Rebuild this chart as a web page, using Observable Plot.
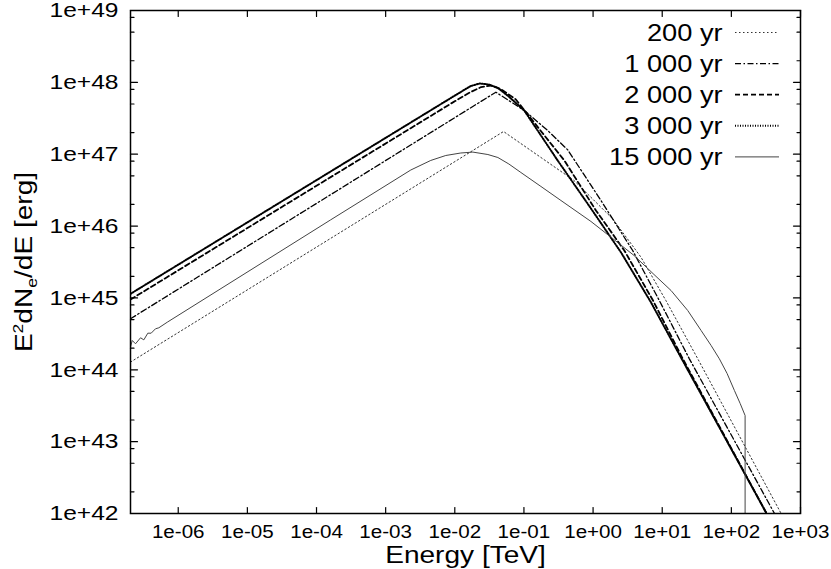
<!DOCTYPE html>
<html>
<head>
<meta charset="utf-8">
<script src="https://cdn.jsdelivr.net/npm/d3@7"></script>
<script src="https://cdn.jsdelivr.net/npm/@observablehq/plot@0.6"></script>
<style>
html, body { margin: 0; padding: 0; background: #fff; }
#wrap { position: relative; width: 831px; height: 569px; overflow: hidden; }
</style>
</head>
<body>
<div id="wrap"></div>
<script>
// ---------------- data ----------------
const seriesNames = ["200 yr", "1 000 yr", "2 000 yr", "3 000 yr", "15 000 yr"];

const energy200 = [2.04e-7, 0.0507, 0.53, 1.92, 4.93, 11.3, 32.7, 513, 640];
const value200  = [1.28e44, 2.07e47, 4.31e46, 1.26e46, 3.69e45, 9.2e44, 1.42e44, 1.04e42, 7.0e41];

const energy1000 = [2.04e-7, 0.0393, 0.101, 0.22, 0.43, 1.30, 3.74, 9.08, 24.7, 411, 520];
const value1000  = [5.13e44, 7.3e47, 4.06e47, 2.14e47, 1.15e47, 2.27e46, 4.57e45, 9.2e44, 1.42e44, 1.04e42, 6.9e41];

const energy2000 = [2.04e-7, 8.75e-3, 0.01596, 0.024, 0.0333, 0.0463, 0.0764, 0.383, 1.10, 2.83, 7.36, 19.4, 318, 400];
const value2000  = [9.5e44, 5.05e47, 7.11e47, 8.6e47, 9.04e47, 8.09e47, 5.77e47, 8.2e46, 1.65e46, 4.57e45, 9.2e44, 1.48e44, 1.03e42, 6.8e41];

const energy3000 = [2.04e-7, 8.75e-3, 0.01327, 0.01706, 0.0230, 0.0311, 0.0420, 0.0579, 0.101, 0.307, 0.871, 2.54, 6.89, 18.7, 318, 400];
const value3000  = [1.14e45, 6.05e47, 7.71e47, 8.9e47, 9.64e47, 9.33e47, 8.36e47, 6.56e47, 4.06e47, 8.2e46, 1.93e46, 4.29e45, 8.65e44, 1.48e44, 1.03e42, 6.8e41];

const energy15000 = [2.04e-7, 2.16e-7, 2.41e-7, 2.85e-7, 3.18e-7, 3.63e-7, 4.06e-7, 4.69e-7, 5.24e-7, 6.93e-7,
                     1.60e-4, 2.31e-3, 4.49e-3, 7.41e-3, 0.01222, 0.01825, 0.0301, 0.0420, 0.0605, 0.0903,
                     0.176, 0.343, 0.931, 2.0, 3.91, 7.6, 13.4, 23.4, 36.5, 50.9, 67.1, 86.7, 110.7, 134, 158, 158];
const value15000  = [2.07e44, 2.56e44, 2.30e44, 2.79e44, 2.61e44, 3.23e44, 3.23e44, 3.72e44, 3.84e44, 4.59e44,
                     1.22e46, 6.03e46, 8.19e46, 9.6e46, 1.04e47, 1.07e47, 9.9e46, 9.0e46, 7.31e46, 5.57e46,
                     3.56e46, 2.27e46, 1.16e46, 6.5e45, 3.9e45, 2.12e45, 1.27e45, 6.68e44, 3.52e44, 2.18e44,
                     1.42e44, 8.9e43, 5.15e43, 3.4e43, 2.31e43, 1e41];

const xDomain = [2.04e-7, 1e3];
const yDomain = [1e42, 1e49];
const xTickValues = [1e-6, 1e-5, 1e-4, 1e-3, 1e-2, 1e-1, 1e0, 1e1, 1e2, 1e3];
const xTickLabels = ["1e-06", "1e-05", "1e-04", "1e-03", "1e-02", "1e-01", "1e+00", "1e+01", "1e+02", "1e+03"];
const yTickValues = [1e42, 1e43, 1e44, 1e45, 1e46, 1e47, 1e48, 1e49];
const yTickLabels = ["1e+42", "1e+43", "1e+44", "1e+45", "1e+46", "1e+47", "1e+48", "1e+49"];
const yMinorTicks = [2e42, 5e42, 8e42, 2e43, 5e43, 8e43, 2e44, 5e44, 8e44, 2e45, 5e45, 8e45,
                     2e46, 5e46, 8e46, 2e47, 5e47, 8e47, 2e48, 5e48, 8e48];
const xTitle = "Energy [TeV]";
const yTitle = "E2dNe/dE [erg]";

// ---------------- styles ----------------
const lineStyles = {
  "200 yr":    {stroke: "#333", strokeWidth: 1,   strokeDasharray: "1.5,2.5"},
  "1 000 yr":  {stroke: "#000", strokeWidth: 1.3, strokeDasharray: "6,2.5,1.5,2.5"},
  "2 000 yr":  {stroke: "#000", strokeWidth: 1.8, strokeDasharray: "5,3"},
  "3 000 yr":  {stroke: "#000", strokeWidth: 2,   strokeDasharray: "1,1.5"},
  "15 000 yr": {stroke: "#444", strokeWidth: 1,   strokeDasharray: null}
};
const FONT = "'Liberation Sans', Arial, Helvetica, sans-serif";
const SX = 1.17; // horizontal widening of the glyphs, as in the reference

// ---------------- build table ----------------
const seriesData = [
  [energy200, value200], [energy1000, value1000], [energy2000, value2000],
  [energy3000, value3000], [energy15000, value15000]
];
const rows = [];
seriesNames.forEach((name, s) => {
  const [E, V] = seriesData[s];
  E.forEach((e, i) => rows.push({series: name, E: e, value: V[i]}));
});

const tickShape = {draw(ctx, l) { ctx.moveTo(0, 0); ctx.lineTo(0, -l); }};
const xLab = new Map(xTickValues.map((v, i) => [v, xTickLabels[i]]));
const yLab = new Map(yTickValues.map((v, i) => [v, yTickLabels[i]]));

const marks = [];
seriesNames.forEach(name => {
  const st = lineStyles[name];
  const opts = {x: "E", y: "value", stroke: st.stroke, strokeWidth: st.strokeWidth, clip: true};
  if (st.strokeDasharray) opts.strokeDasharray = st.strokeDasharray;
  marks.push(Plot.line(rows.filter(r => r.series === name), opts));
});

marks.push(
  Plot.vector(xTickValues, {x: d => d, frameAnchor: "bottom", rotate: 0, length: 6, anchor: "start", shape: tickShape, stroke: "black", strokeWidth: 1.2}),
  Plot.vector(xTickValues, {x: d => d, frameAnchor: "top", rotate: 180, length: 6, anchor: "start", shape: tickShape, stroke: "black", strokeWidth: 1.2}),
  Plot.vector(yTickValues, {y: d => d, frameAnchor: "left", rotate: 90, length: 7, anchor: "start", shape: tickShape, stroke: "black", strokeWidth: 1.2}),
  Plot.vector(yTickValues, {y: d => d, frameAnchor: "right", rotate: -90, length: 7, anchor: "start", shape: tickShape, stroke: "black", strokeWidth: 1.2}),
  Plot.vector(yMinorTicks, {y: d => d, frameAnchor: "left", rotate: 90, length: 3.5, anchor: "start", shape: tickShape, stroke: "black", strokeWidth: 1.2}),
  Plot.vector(yMinorTicks, {y: d => d, frameAnchor: "right", rotate: -90, length: 3.5, anchor: "start", shape: tickShape, stroke: "black", strokeWidth: 1.2}),
  Plot.frame({stroke: "black", strokeWidth: 1.5}),
  Plot.axisX({ticks: xTickValues, tickFormat: d => xLab.get(d), tickSize: 0, tickPadding: 12, fontSize: 17.6, label: null}),
  Plot.axisY({ticks: yTickValues, tickFormat: d => yLab.get(d), tickSize: 0, tickPadding: 12, fontSize: 21, label: null}),
  Plot.text([xTitle], {text: d => d, frameAnchor: "bottom", dy: 42, fontSize: 24, lineAnchor: "middle", textAnchor: "middle"}),
  Plot.text([yTitle], {text: d => d, frameAnchor: "left", dx: -106, rotate: -90, fontSize: 24, lineAnchor: "middle", textAnchor: "middle"})
);

const chart = Plot.plot({
  width: 831, height: 569,
  marginLeft: 130, marginRight: 31, marginTop: 10, marginBottom: 56,
  style: {fontFamily: FONT, background: "white", color: "black", overflow: "visible"},
  x: {type: "log", domain: xDomain},
  y: {type: "log", domain: yDomain},
  marks
});
const wrap = document.getElementById("wrap");
wrap.appendChild(chart);

// y title with superscript 2 and subscript e
chart.querySelectorAll("text").forEach(t => {
  if (t.textContent === yTitle) {
    t.textContent = "";
    const parts = [
      {s: "E", fs: null, dy: 0},
      {s: "2", fs: 15, dy: -9},
      {s: "dN", fs: null, dy: 9},
      {s: "e", fs: 15, dy: 5},
      {s: "/dE [erg]", fs: null, dy: -5}
    ];
    parts.forEach(p => {
      const ts = document.createElementNS("http://www.w3.org/2000/svg", "tspan");
      ts.textContent = p.s;
      if (p.fs) ts.setAttribute("font-size", p.fs);
      if (p.dy) ts.setAttribute("dy", p.dy);
      t.appendChild(ts);
    });
  }
});

// widen glyphs horizontally (around each text's own anchor); em offsets stay in local space
function stretchText(root) {
  root.querySelectorAll("text").forEach(t => {
    let tr = t.getAttribute("transform");
    if (!tr) {
      const x = t.getAttribute("x"), y = t.getAttribute("y");
      const xn = x !== null && /^-?[\d.]+$/.test(x) ? +x : null;
      const yn = y !== null && /^-?[\d.]+$/.test(y) ? +y : null;
      tr = `translate(${xn || 0},${yn || 0})`;
      if (xn !== null) t.removeAttribute("x");
      if (yn !== null) t.removeAttribute("y");
    }
    t.setAttribute("transform", tr + ` scale(${SX},1)`);
  });
}
stretchText(chart);

// legend inside the top-right corner of the frame
const legendTop = 32.5, legendStep = 31.1, legendTextRight = 722.7, sampleX1 = 735, sampleX2 = 779;
const leg = d3.select(wrap).append("svg")
  .attr("width", 831).attr("height", 200)
  .style("position", "absolute").style("left", "0px").style("top", "0px")
  .style("pointer-events", "none")
  .attr("font-family", FONT);
seriesNames.forEach((name, i) => {
  const cy = legendTop + i * legendStep;
  const st = lineStyles[name];
  leg.append("text")
    .attr("transform", `translate(${legendTextRight},${cy}) scale(${SX},1)`)
    .attr("text-anchor", "end").attr("dy", "0.35em")
    .attr("font-size", 23.3).attr("fill", "black")
    .text(name);
  const ln = leg.append("line")
    .attr("x1", sampleX1).attr("x2", sampleX2).attr("y1", cy).attr("y2", cy)
    .attr("stroke", st.stroke).attr("stroke-width", st.strokeWidth);
  if (st.strokeDasharray) ln.attr("stroke-dasharray", st.strokeDasharray);
});
</script>
</body>
</html>
